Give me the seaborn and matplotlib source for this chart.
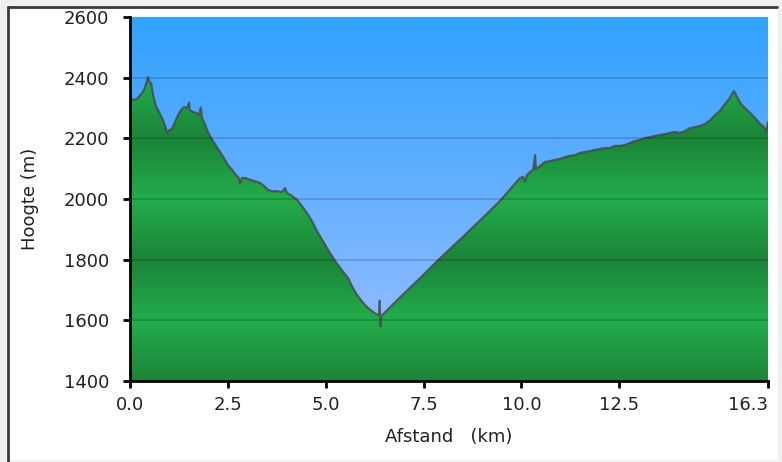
import numpy as np
import pandas as pd
import matplotlib
matplotlib.use('Agg')
import matplotlib.pyplot as plt
import seaborn as sns
from matplotlib.patches import Polygon, Rectangle
from matplotlib.lines import Line2D

# Elevation profile (km, m)
afstand = [0.00, 0.08, 0.18, 0.26, 0.33, 0.38, 0.43, 0.46, 0.49, 0.54, 0.59, 0.66,
           0.74, 0.82, 0.89, 0.95, 1.00, 1.07, 1.15, 1.23, 1.30, 1.38, 1.46, 1.51,
           1.53, 1.61, 1.69, 1.76, 1.81, 1.84, 1.92, 1.99, 2.10, 2.20, 2.30, 2.40,
           2.50, 2.61, 2.71, 2.78, 2.81, 2.86, 2.96, 3.07, 3.19, 3.32, 3.42, 3.53,
           3.63, 3.76, 3.88, 3.96, 4.01, 4.14, 4.27, 4.39, 4.52, 4.65, 4.75, 4.85,
           4.96, 5.06, 5.16, 5.26, 5.37, 5.47, 5.57, 5.67, 5.77, 5.88, 5.98, 6.08,
           6.18, 6.28, 6.36, 6.38, 6.40, 6.42, 6.90, 7.41, 7.90, 8.43, 8.95, 9.45,
           9.96, 10.04, 10.09, 10.14, 10.22, 10.30, 10.35, 10.37, 10.48, 10.60,
           10.73, 10.86, 10.99, 11.11, 11.24, 11.37, 11.50, 11.62, 11.75, 11.88,
           12.01, 12.14, 12.26, 12.39, 12.52, 12.65, 12.77, 12.90, 13.03, 13.16,
           13.29, 13.41, 13.54, 13.67, 13.80, 13.92, 14.05, 14.18, 14.31, 14.44,
           14.56, 14.69, 14.82, 14.95, 15.07, 15.20, 15.31, 15.38, 15.43, 15.51,
           15.61, 15.71, 15.84, 15.97, 16.10, 16.20, 16.25, 16.30]
hoogte = [2336, 2326, 2330, 2343, 2353, 2366, 2388, 2402, 2386, 2382, 2343, 2307,
          2287, 2267, 2244, 2218, 2227, 2231, 2254, 2277, 2293, 2303, 2300, 2318,
          2293, 2287, 2284, 2277, 2302, 2267, 2244, 2221, 2195, 2175, 2155, 2135,
          2112, 2096, 2079, 2069, 2052, 2069, 2069, 2063, 2059, 2053, 2043, 2030,
          2026, 2026, 2023, 2036, 2020, 2010, 1997, 1977, 1954, 1927, 1901, 1878,
          1855, 1832, 1812, 1792, 1773, 1756, 1740, 1713, 1690, 1670, 1654, 1641,
          1631, 1621, 1618, 1665, 1580, 1614, 1676, 1739, 1802, 1866, 1930, 1993,
          2069, 2073, 2058, 2079, 2089, 2096, 2145, 2099, 2109, 2122,
          2125, 2129, 2132, 2138, 2142, 2145, 2152, 2155, 2158, 2162,
          2165, 2168, 2168, 2175, 2175, 2178, 2185, 2191, 2195, 2201,
          2204, 2208, 2211, 2214, 2218, 2221, 2218, 2224, 2234, 2237,
          2241, 2247, 2260, 2277, 2290, 2313, 2330, 2346, 2356, 2336,
          2313, 2300, 2284, 2267, 2247, 2237, 2221, 2254]
x_ticks = [0.0, 2.5, 5.0, 7.5, 10.0, 12.5, 16.3]
x_labels = ['0.0', '2.5', '5.0', '7.5', '10.0', '12.5', '16.3']
y_ticks = [1400, 1600, 1800, 2000, 2200, 2400, 2600]

df = pd.DataFrame({'Afstand': afstand, 'Hoogte': hoogte})

sns.set_style('ticks')
plt.rcParams['font.family'] = ['DejaVu Sans']

fig = plt.figure(figsize=(7.82, 4.62), dpi=100)
fig.patch.set_facecolor('#f0f0f0')
# white panel with dark left/top edge
fig.patches.append(Rectangle((8 / 782, 0.005), 770 / 782, 1 - 7 / 462 - 0.005,
                             transform=fig.transFigure, facecolor='white',
                             edgecolor='none', zorder=-10))
fig.lines.append(Line2D([8 / 782, 8 / 782], [0.0, 1 - 7 / 462], transform=fig.transFigure,
                        color='#3a3a3a', lw=2, zorder=-5))
fig.lines.append(Line2D([8 / 782, 777 / 782], [1 - 7 / 462, 1 - 7 / 462],
                        transform=fig.transFigure, color='#3a3a3a', lw=2, zorder=-5))

ax = fig.add_axes([130 / 782, (462 - 381) / 462, 638 / 782, 364 / 462])
x0, x1, y0, y1 = 0, 16.3, 1400, 2600

# sky gradient
top = np.array([0x30, 0xA2, 0xFF]) / 255
bot = np.array([0xA0, 0xC0, 0xFF]) / 255
t = np.linspace(0, 1, 256)[:, None]
sky = (bot * (1 - t) + top * t)[:, None, :]
ax.imshow(sky, extent=[x0, x1, y0, y1], origin='lower', aspect='auto', zorder=0)

# banded green fill
levels = np.linspace(y0, y1, 600)
w = np.abs(((levels - 1400) % 400) / 200 - 1)[:, None]
bright = np.array([0x23, 0xAD, 0x4B]) / 255
dark = np.array([0x1B, 0x84, 0x38]) / 255
green = (bright * (1 - w) + dark * w)[:, None, :]
im = ax.imshow(green, extent=[x0, x1, y0, y1], origin='lower', aspect='auto', zorder=1)
poly = Polygon(list(zip(afstand, hoogte)) + [(afstand[-1], y0), (afstand[0], y0)],
               closed=True, transform=ax.transData, facecolor='none', edgecolor='none')
ax.add_patch(poly)
im.set_clip_path(poly)

sns.lineplot(data=df, x='Afstand', y='Hoogte', ax=ax, color='#474747', lw=1.6,
             alpha=0.8, zorder=3, sort=False)

for yv in y_ticks[1:-1]:
    ax.axhline(yv, color='black', alpha=0.18, lw=1.2, zorder=4)

ax.set_xlim(x0, x1)
ax.set_ylim(y0, y1)
ax.set_xticks(x_ticks)
ax.set_xticklabels(x_labels)
ax.get_xticklabels()[-1].set_horizontalalignment('right')
ax.set_yticks(y_ticks)
ax.tick_params(direction='out', length=5, width=2, color='black', labelsize=13,
               labelcolor='#222222')
ax.tick_params(axis='y', pad=10)
ax.tick_params(axis='x', pad=6)
for s in ['top', 'right']:
    ax.spines[s].set_visible(False)
for s in ['left', 'bottom']:
    ax.spines[s].set_linewidth(2)
    ax.spines[s].set_color('black')
    ax.spines[s].set_zorder(5)

ax.set_xlabel('Afstand   (km)', fontsize=13, color='#222222', labelpad=10)
ax.set_ylabel('Hoogte (m)', fontsize=13, color='#222222', labelpad=18)

fig.savefig('out.png', dpi=100, facecolor=fig.get_facecolor())
